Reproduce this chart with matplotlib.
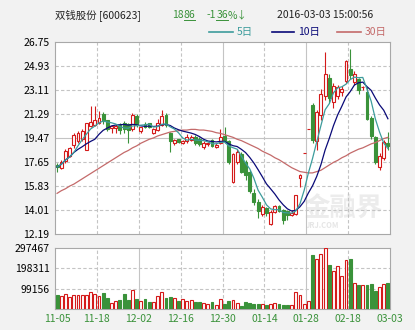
import matplotlib
matplotlib.use("Agg")
import matplotlib.pyplot as plt
from matplotlib.lines import Line2D
import numpy as np
import pandas as pd

plt.rcParams['font.family'] = ['Noto Sans CJK SC', 'DejaVu Sans']

# daily bars 2015-11-05 .. 2016-03-03
opens = [17.40, 17.15, 17.70, 18.10, 18.90, 19.25, 19.40, 18.55, 20.35, 20.45,
         20.60, 21.25, 20.80, 20.20, 20.20, 20.45, 20.60, 20.50, 20.10, 21.15,
         20.00, 20.50, 20.55, 19.85, 20.05, 20.45, 21.20, 19.80, 19.10, 19.35,
         19.05, 19.20, 19.30, 19.55, 19.40, 18.75, 19.00, 19.30, 18.75, 19.05,
         19.60, 19.20, 16.10, 17.65, 18.20, 17.60, 16.85, 15.30, 14.60, 13.65,
         14.15, 12.95, 13.85, 14.30, 13.95, 13.90, 13.60, 13.65, 16.45, 18.28,
         20.10, 21.95, 19.20, 21.20, 22.60, 24.00, 22.20, 22.60, 22.90, 23.80,
         24.70, 23.70, 23.90, 23.30, 22.90, 21.00, 19.50, 17.25, 17.90, 19.10]
closes = [17.25, 17.65, 18.45, 18.70, 19.70, 19.80, 19.95, 20.55, 20.65, 20.80,
          21.00, 20.70, 20.15, 20.35, 20.35, 20.05, 20.15, 20.05, 21.20, 20.45,
          20.25, 20.30, 20.30, 20.10, 20.60, 21.15, 20.40, 19.20, 19.30, 19.15,
          19.20, 19.55, 19.55, 19.05, 19.00, 19.10, 19.10, 18.85, 18.95, 19.55,
          19.25, 17.60, 18.20, 18.40, 16.90, 16.65, 15.40, 14.60, 13.90, 14.25,
          13.75, 13.85, 14.30, 13.90, 13.20, 13.60, 13.75, 15.12, 16.63, 18.29,
          20.12, 19.30, 21.40, 22.80, 24.30, 22.45, 23.40, 23.30, 23.20, 25.30,
          24.20, 24.30, 23.10, 23.30, 20.90, 19.60, 17.60, 18.10, 19.12, 18.86]
highs = [17.55, 17.80, 18.65, 18.80, 19.80, 19.95, 20.15, 20.60, 21.85, 21.85,
         21.50, 21.45, 20.85, 20.45, 20.50, 20.55, 20.75, 20.60, 21.35, 21.30,
         20.30, 20.65, 20.60, 20.20, 20.90, 21.55, 21.35, 19.90, 19.40, 19.40,
         19.30, 19.75, 19.70, 19.65, 19.50, 19.20, 19.15, 19.40, 19.05, 20.10,
         20.30, 19.30, 18.30, 18.60, 18.40, 17.80, 17.00, 15.60, 14.85, 14.40,
         14.25, 13.95, 14.40, 14.35, 14.05, 14.00, 13.95, 15.15, 16.70, 18.29,
         20.12, 22.10, 21.60, 23.20, 26.00, 24.30, 23.60, 23.50, 23.40, 25.40,
         26.20, 24.50, 24.00, 23.40, 23.30, 21.10, 19.60, 18.30, 19.30, 19.90]
lows = [16.90, 17.10, 17.55, 18.00, 18.70, 19.10, 19.25, 18.50, 20.25, 20.35,
        20.50, 20.50, 20.00, 19.85, 19.85, 19.75, 19.80, 19.05, 20.00, 20.30,
        19.85, 20.20, 20.20, 19.75, 20.00, 20.35, 20.30, 18.40, 18.95, 19.05,
        19.00, 19.10, 19.20, 18.95, 18.85, 18.60, 18.85, 18.75, 18.70, 19.00,
        19.10, 17.45, 16.00, 17.50, 16.80, 16.30, 15.30, 14.40, 13.40, 13.50,
        13.50, 12.85, 13.75, 13.80, 12.95, 13.25, 13.50, 13.60, 15.75, 18.28,
        20.10, 19.10, 18.50, 20.80, 22.30, 22.10, 21.70, 22.40, 22.60, 23.60,
        23.90, 23.50, 22.80, 23.10, 20.80, 19.40, 17.50, 17.00, 17.80, 18.50]
volumes = [67000, 62000, 70000, 57000, 67000, 67000, 67000, 67000, 80000, 72000,
           62000, 77000, 54000, 26000, 38000, 42000, 72000, 42000, 92000, 47000,
           38000, 47000, 33000, 33000, 62000, 80000, 52000, 57000, 52000, 38000,
           47000, 38000, 42000, 33000, 33000, 26000, 23000, 33000, 18000, 47000,
           23000, 38000, 42000, 28000, 13000, 33000, 28000, 23000, 23000, 23000,
           18000, 23000, 28000, 23000, 18000, 18000, 18000, 80000, 67000, 23000,
           38000, 263000, 243000, 268000, 297467, 214000, 185000, 209000, 160000, 239000,
           243000, 129000, 119000, 119000, 116000, 121000, 88000, 105000, 124000, 126000]
ma30 = [15.25, 15.45, 15.60, 15.80, 15.95, 16.15, 16.35, 16.55, 16.75, 16.95,
        17.15, 17.35, 17.55, 17.75, 17.95, 18.15, 18.35, 18.50, 18.70, 18.85,
        19.05, 19.20, 19.35, 19.45, 19.60, 19.70, 19.80, 19.90, 19.95, 20.00,
        20.05, 20.05, 20.10, 20.10, 20.05, 20.05, 20.00, 19.95, 19.85, 19.80,
        19.70, 19.60, 19.50, 19.35, 19.25, 19.10, 18.95, 18.80, 18.65, 18.45,
        18.30, 18.15, 17.95, 17.80, 17.60, 17.40, 17.20, 17.05, 16.90, 16.85,
        16.80, 16.80, 16.90, 17.00, 17.20, 17.40, 17.60, 17.75, 17.95, 18.10,
        18.30, 18.45, 18.60, 18.70, 18.85, 19.00, 19.10, 19.25, 19.40, 19.50]

date_labels = ['11-05', '11-18', '12-02', '12-16', '12-30', '01-14', '01-28', '02-18', '03-03']
price_ticks = [12.19, 14.01, 15.83, 17.65, 19.47, 21.29, 23.11, 24.93, 26.75]
volume_ticks = [99156, 198311, 297467]

RED = '#d41a1a'
GREEN = '#3a923a'
C5 = '#3d9c9c'
C10 = '#0a0a78'
C30 = '#c46a6a'
GRID = '#c4c4c4'
FRAME = '#a8a8a8'
W, H = 415, 330

o = np.array(opens)
c = np.array(closes)
hi = np.array(highs)
lo = np.array(lows)
x = np.arange(len(c))
up = c >= o
ma5 = pd.Series(closes).rolling(5, min_periods=1).mean()
ma10 = pd.Series(closes).rolling(10, min_periods=1).mean()

fig = plt.figure(figsize=(W / 100, H / 100), dpi=100, facecolor='#f2f2f2')
ax = fig.add_axes([55 / W, 1 - 233.7 / H, 335 / W, 192 / H])
axv = fig.add_axes([55 / W, 1 - 308.7 / H, 335 / W, 60.4 / H])

edge = [RED if u else GREEN for u in up]
face = ['white' if u else GREEN for u in up]

# candles
ax.vlines(x, lo, hi, colors=edge, linewidth=0.8, zorder=2)
body = np.maximum(np.abs(c - o), 0.02)
ax.bar(x, body, bottom=np.minimum(o, c), width=0.68, color=face,
       edgecolor=edge, linewidth=0.8, zorder=3)
ax.plot(x, ma30, color=C30, lw=0.9, zorder=4)
ax.plot(x, ma10, color=C10, lw=0.9, zorder=4)
ax.plot(x, ma5, color=C5, lw=0.9, zorder=4)

ax.set_xlim(-0.5, len(c) - 0.5)
ax.set_ylim(price_ticks[0], price_ticks[-1])
ax.set_yticks(price_ticks)
ax.set_yticklabels([f'{t:.2f}' for t in price_ticks])
ax.set_xticks([])
for t in price_ticks[1:-1]:
    ax.axhline(t, color=GRID, lw=0.8, ls='-' if t == 19.47 else (0, (3, 2)), zorder=1)

# volume
axv.bar(x, volumes, width=0.68, color=face, edgecolor=edge, linewidth=0.8, zorder=3)
axv.set_xlim(-0.5, len(c) - 0.5)
axv.set_ylim(0, volume_ticks[-1])
axv.set_yticks(volume_ticks)
axv.set_yticklabels([str(v) for v in volume_ticks])
for t in volume_ticks[:-1]:
    axv.axhline(t, color=GRID, lw=0.8, ls=(0, (3, 2)), zorder=1)

grid_x = [9.5, 19.5, 29.5, 39.5, 49.5, 59.5, 69.5]
for gx in grid_x:
    ax.axvline(gx, color=GRID, lw=0.8, ls='-' if gx in (39.5, 59.5) else (0, (3, 2)), zorder=1)
    axv.axvline(gx, color=GRID, lw=0.8, ls='-' if gx in (19.5, 59.5) else (0, (3, 2)), zorder=1)
axv.set_xticks([0] + grid_x + [79.5])
axv.set_xticklabels(date_labels, color=GREEN, fontsize=7.5)

for a in (ax, axv):
    a.set_facecolor('white')
    for s in a.spines.values():
        s.set_color(FRAME)
        s.set_linewidth(0.8)
    a.tick_params(length=0, labelsize=7.5, pad=4)

# watermark
ax.text(0.86, 0.13, '金融界', transform=ax.transAxes, fontsize=19, fontweight='bold',
        color='#ececec', ha='center', va='center', zorder=0.5)
ax.text(0.80, 0.02, 'JRJ.COM', transform=ax.transAxes, fontsize=5.5, fontweight='bold',
        style='italic', color='#e6e6e6', ha='center', va='bottom', zorder=0.5)


def px(xp, yp):
    return xp / W, 1 - yp / H


renderer = fig.canvas.get_renderer()


def put_pieces(x0, y0, pieces, color, size=7.5):
    # write text pieces side by side, underlining the flagged ones
    cur = x0
    for txt, under in pieces:
        t = fig.text(*px(cur, y0), txt, color=color, fontsize=size, ha='left', va='center')
        bb = t.get_window_extent(renderer)
        if under:
            fig.add_artist(Line2D([cur / W, (cur + bb.width) / W],
                                  [1 - (y0 + 5) / H] * 2, color=color, lw=0.7))
        cur += bb.width


fig.text(*px(55, 15), '双钱股份 [600623]', fontsize=7.5, color='#222222', va='center')
put_pieces(172, 15, [('18', False), ('86', True)], GREEN)
put_pieces(207, 15, [('-1', False), ('36', True), ('%↓', False)], GREEN)
fig.text(*px(277, 15), '2016-03-03 15:00:56', fontsize=7.5, color='#222222', va='center')

for (x0, x1, tx, label, col) in [(209, 233, 237, '5日', C5),
                                 (272, 294, 298, '10日', C10),
                                 (337, 361, 365, '30日', C30)]:
    fig.add_artist(Line2D([x0 / W, x1 / W], [1 - 32 / H] * 2, color=col, lw=1.2))
    fig.text(*px(tx, 32), label, fontsize=7.5, color=col, va='center')

fig.savefig('out.png', dpi=100, facecolor=fig.get_facecolor())
